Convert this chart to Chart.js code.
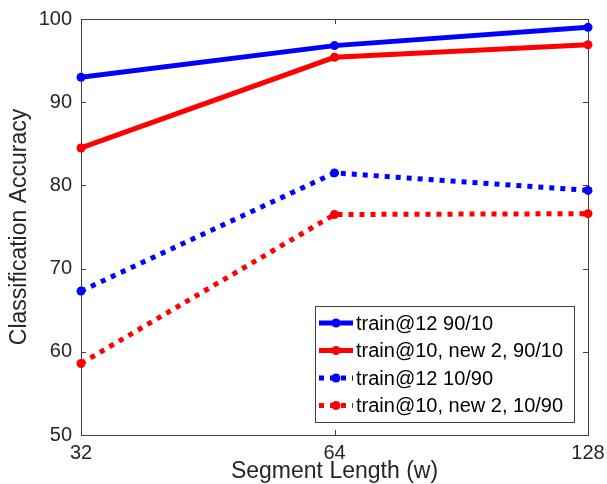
<!DOCTYPE html>
<html>
<head>
<meta charset="utf-8">
<script src="https://cdn.jsdelivr.net/npm/chart.js@4/dist/chart.umd.min.js"></script>
<style>
  body { margin: 0; background: #fff; }
  canvas { display: block; }
</style>
</head>
<body>
<canvas id="accChart" width="607" height="484"></canvas>
<script>
// values
const segmentLengths = ['32', '64', '128'];
const train12_9010 = [93.0, 96.8, 99.0];
const train10new2_9010 = [84.5, 95.4, 96.9];
const train12_1090 = [67.3, 81.5, 79.4];
const train10new2_1090 = [58.6, 76.5, 76.6];
const yTicks = [50, 60, 70, 80, 90, 100];
const seriesNames = ['train@12 90/10', 'train@10, new 2, 90/10', 'train@12 10/90', 'train@10, new 2, 10/90'];

const BLUE = '#0000ff';
const RED = '#ff0000';
const AXIS = '#404040';
const FONT = "'Liberation Sans', Arial, sans-serif";
const DOTS = [5, 6];

function series(label, data, color, dash) {
    return {
        label: label,
        data: data,
        borderColor: color,
        backgroundColor: color,
        borderWidth: 5,
        borderDash: dash,
        borderCapStyle: 'butt',
        pointRadius: 4.5,
        pointBorderWidth: 0,
        pointBackgroundColor: color,
        tension: 0,
        clip: false
    };
}

// box around the axes with inward ticks, MATLAB style
const framePlugin = {
    id: 'frame',
    beforeDatasetsDraw(chart) {
        const ctx = chart.ctx;
        const a = chart.chartArea;
        const xs = chart.scales.x, ys = chart.scales.y;
        ctx.save();
        ctx.strokeStyle = AXIS;
        ctx.lineWidth = 1;
        ctx.strokeRect(a.left + 0.5, a.top + 0.5, a.right - a.left, a.bottom - a.top);
        ctx.beginPath();
        yTicks.forEach(v => {
            const py = Math.round(ys.getPixelForValue(v)) + 0.5;
            ctx.moveTo(a.left, py); ctx.lineTo(a.left + 5, py);
            ctx.moveTo(a.right, py); ctx.lineTo(a.right - 5, py);
        });
        segmentLengths.forEach((s, i) => {
            const px = Math.round(xs.getPixelForValue(i)) + 0.5;
            ctx.moveTo(px, a.bottom); ctx.lineTo(px, a.bottom - 5);
            ctx.moveTo(px, a.top); ctx.lineTo(px, a.top + 5);
        });
        ctx.stroke();
        ctx.restore();
    }
};

// legend box inside the plot, lower right
const legendPlugin = {
    id: 'insideLegend',
    afterDatasetsDraw(chart) {
        const ctx = chart.ctx;
        const bx = 315, by = 306, bw = 259, bh = 116;
        ctx.save();
        ctx.fillStyle = '#fff';
        ctx.fillRect(bx, by, bw, bh);
        ctx.strokeStyle = AXIS;
        ctx.lineWidth = 1;
        ctx.strokeRect(bx + 0.5, by + 0.5, bw, bh);
        chart.data.datasets.forEach((ds, i) => {
            const yy = 323 + i * 27.5;
            ctx.strokeStyle = ds.borderColor;
            ctx.lineWidth = ds.borderWidth;
            ctx.setLineDash(ds.borderDash || []);
            ctx.beginPath();
            ctx.moveTo(319, yy);
            ctx.lineTo(353, yy);
            ctx.stroke();
            ctx.setLineDash([]);
            ctx.fillStyle = ds.borderColor;
            ctx.beginPath();
            ctx.arc(336, yy, 4.5, 0, Math.PI * 2);
            ctx.fill();
            ctx.fillStyle = '#000';
            ctx.font = '20px ' + FONT;
            ctx.textBaseline = 'middle';
            ctx.textAlign = 'left';
            ctx.fillText(ds.label, 356, yy + 1);
        });
        ctx.restore();
    }
};

new Chart(document.getElementById('accChart'), {
    type: 'line',
    data: {
        labels: segmentLengths,
        datasets: [
            series(seriesNames[0], train12_9010, BLUE, []),
            series(seriesNames[1], train10new2_9010, RED, []),
            series(seriesNames[2], train12_1090, BLUE, DOTS),
            series(seriesNames[3], train10new2_1090, RED, DOTS)
        ]
    },
    options: {
        responsive: false,
        animation: false,
        devicePixelRatio: 1,
        layout: { padding: { left: 0, right: 19, top: 19, bottom: 0 } },
        plugins: {
            legend: { display: false },
            tooltip: { enabled: false }
        },
        scales: {
            x: {
                type: 'category',
                offset: false,
                grid: { display: false, drawTicks: false },
                border: { display: false },
                ticks: { color: '#262626', font: { family: FONT, size: 20 }, padding: 6, maxRotation: 0 },
                title: {
                    display: true,
                    text: 'Segment Length (w)',
                    color: '#262626',
                    font: { family: FONT, size: 23, lineHeight: 1 },
                    padding: { top: 0, bottom: 1 }
                },
                afterFit(scale) {
                    scale.height = 49;
                    scale.paddingLeft = 0;
                    scale.paddingRight = 0;
                }
            },
            y: {
                min: 50,
                max: 100,
                grid: { display: false, drawTicks: false },
                border: { display: false },
                ticks: { stepSize: 10, color: '#262626', font: { family: FONT, size: 20 }, padding: 9 },
                title: {
                    display: true,
                    text: 'Classification Accuracy',
                    color: '#262626',
                    font: { family: FONT, size: 23, lineHeight: 1 },
                    padding: { top: 8.5, bottom: 0 }
                },
                afterFit(scale) {
                    scale.width = 81;
                    scale.paddingTop = 0;
                    scale.paddingBottom = 0;
                }
            }
        }
    },
    plugins: [framePlugin, legendPlugin]
});
</script>
</body>
</html>
